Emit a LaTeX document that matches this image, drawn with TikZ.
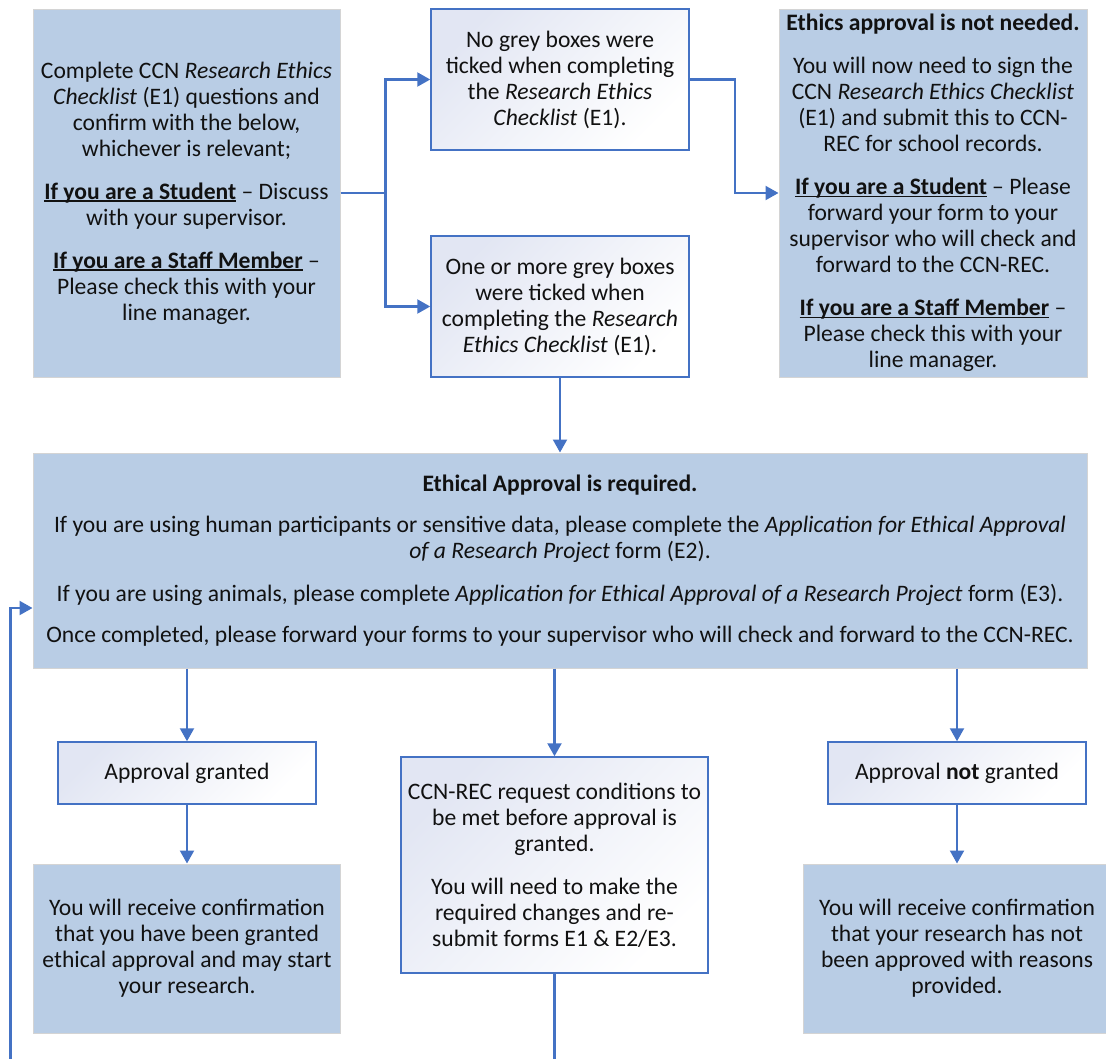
\documentclass[tikz,border=0pt]{standalone}
\usepackage{fontspec}
\setmainfont{Carlito}
\usetikzlibrary{arrows.meta,calc}
\definecolor{lineblue}{HTML}{4472C4}
\definecolor{fillblue}{HTML}{B9CDE5}
\definecolor{gradc}{HTML}{E2E6F3}
\definecolor{greyedge}{HTML}{D4D4D4}
\definecolor{txt}{HTML}{111111}
\newcommand\fsz{\fontsize{23.6}{26}\selectfont}
\newcommand\ulbf[1]{\setbox0=\hbox{\bfseries #1}\rlap{\rule[-2.6pt]{\wd0}{1.5pt}}\box0\relax}
\begin{document}
\begin{tikzpicture}[x=1pt,y=1pt,
  bluebox/.style={draw=greyedge, line width=1pt, fill=fillblue, align=center, inner sep=0pt, font=\fsz, text=txt},
  whitebox/.style={draw=lineblue, line width=1.5pt, top color=gradc, bottom color=white, shading angle=45, align=center, inner sep=0pt, font=\fsz, text=txt},
  conn/.style={draw=lineblue, line width=2.2pt, -{Triangle[length=13pt,width=14pt]}}
]
\useasboundingbox (0,0) rectangle (1106,-1058);

\node[bluebox, minimum width=307pt, minimum height=368pt] (A) at (186.5,-193) {%
Complete CCN \textit{Research Ethics}\\
\textit{Checklist} (E1) questions and\\
confirm with the below,\\
whichever is relevant;\\[17pt]
\ulbf{If you are a Student} -- Discuss\\
with your supervisor.\\[17pt]
\ulbf{If you are a Staff Member} --\\
Please check this with your\\
line manager.};

\node[whitebox, minimum width=258pt, minimum height=141pt] (B) at (560,-79.5) {%
No grey boxes were\\
ticked when completing\\
the \textit{Research Ethics}\\
\textit{Checklist} (E1).};

\node[whitebox, minimum width=258pt, minimum height=141pt] (C) at (560,-306.5) {%
One or more grey boxes\\
were ticked when\\
completing the \textit{Research}\\
\textit{Ethics Checklist} (E1).};

\node[bluebox, minimum width=308pt, minimum height=368pt] (D) at (933,-193) {%
\textbf{Ethics approval is not needed.}\\[17pt]
You will now need to sign the\\
CCN \textit{Research Ethics Checklist}\\
(E1) and submit this to CCN-\\
REC for school records.\\[17pt]
\ulbf{If you are a Student} -- Please\\
forward your form to your\\
supervisor who will check and\\
forward to the CCN-REC.\\[17pt]
\ulbf{If you are a Staff Member} --\\
Please check this with your\\
line manager.};

\node[bluebox, minimum width=1054pt, minimum height=215pt] (E) at (560,-560.5) {%
\textbf{Ethical Approval is required.}\\[15pt]
If you are using human participants or sensitive data, please complete the \textit{Application for Ethical Approval}\\
\textit{of a Research Project} form (E2).\\[17pt]
If you are using animals, please complete \textit{Application for Ethical Approval of a Research Project} form (E3).\\[15pt]
Once completed, please forward your forms to your supervisor who will check and forward to the CCN-REC.};

\node[whitebox, minimum width=258pt, minimum height=62pt] (F) at (187,-773) {Approval granted};

\node[whitebox, minimum width=307pt, minimum height=216pt] (G) at (554.5,-865) {%
CCN-REC request conditions to\\
be met before approval is\\
granted.\\[17pt]
You will need to make the\\
required changes and re-\\
submit forms E1 \& E2/E3.};

\node[whitebox, minimum width=258pt, minimum height=62pt] (H) at (957,-773) {Approval \textbf{not} granted};

\node[bluebox, minimum width=307pt, minimum height=169pt] (I) at (187,-948.5) {%
You will receive confirmation\\
that you have been granted\\
ethical approval and may start\\
your research.};

\node[bluebox, minimum width=307pt, minimum height=169pt] (J) at (957,-948.5) {%
You will receive confirmation\\
that your research has not\\
been approved with reasons\\
provided.};

% connectors
\draw[conn] (A.east) -- ++(45,0) |- (B.west);
\draw[conn] (A.east) -- ++(45,0) |- (C.west);
\draw[conn] (B.east) -- ++(45,0) |- (D.west);
\draw[conn] (C.south) -- (E.north);
\draw[conn] (E.south -| F.north) -- (F.north);
\draw[conn] (E.south -| G.north) -- (G.north);
\draw[conn] (E.south -| H.north) -- (H.north);
\draw[conn] (F.south) -- (F.south |- I.north);
\draw[conn] (H.south) -- (H.south |- J.north);
\coordinate (loopin) at ($(E.west)+(0,-47.5)$);
\coordinate (loopside) at ($(loopin)+(-22,0)$);
\draw[conn] (G.south) -- ++(0,-110) -| (loopside) -- (loopin);
\end{tikzpicture}
\end{document}
